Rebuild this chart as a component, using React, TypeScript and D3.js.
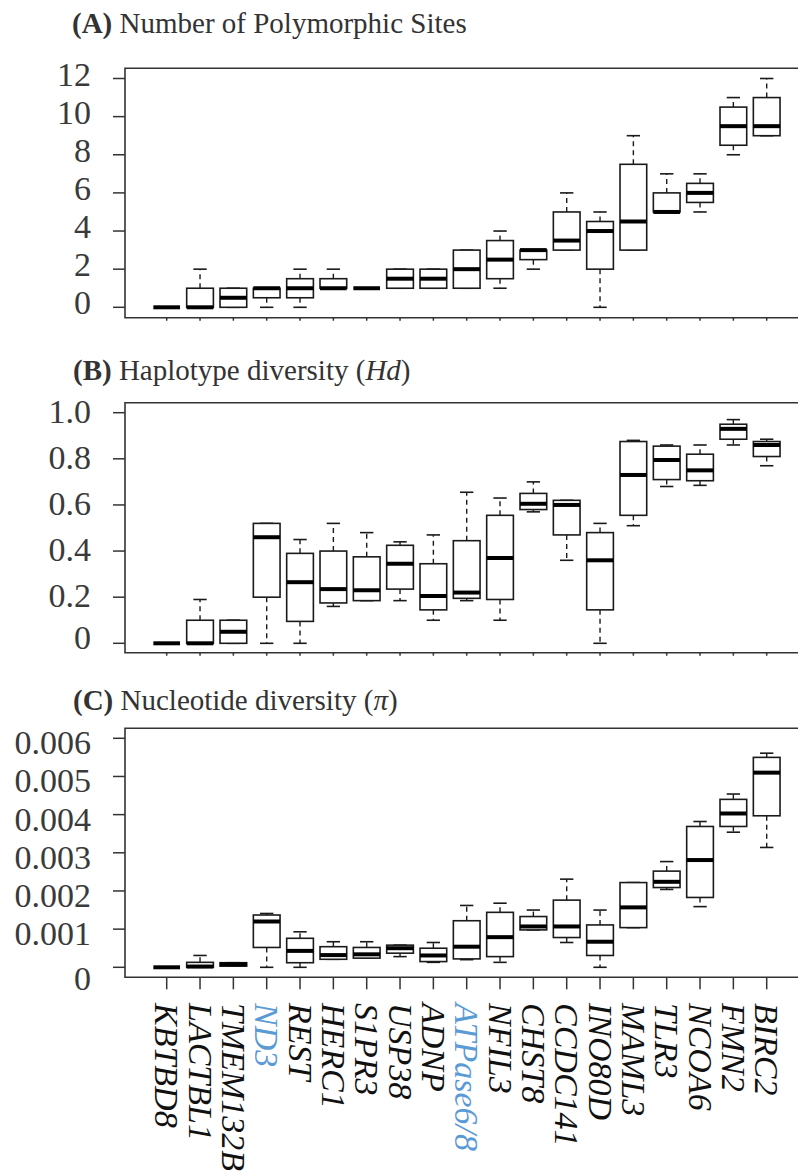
import React from "react";
import * as d3 from "d3";

// gene order along the x axis
const genes = [
  "KBTBD8", "LACTBL1", "TMEM132B", "ND3", "REST", "HERC1", "S1PR3", "USP38", "ADNP",
  "ATPase6/8", "NFIL3", "CHST8", "CCDC141", "INO80D", "MAML3", "TLR3", "NCOA6", "FMN2", "BIRC2",
];
const mitoGenes = ["ND3", "ATPase6/8"];

// [min, q1, median, q3, max] per gene
const polySites = [
  [0, 0, 0, 0, 0],
  [0, 0, 0, 1, 2],
  [0, 0, 0.5, 1, 1],
  [0, 0.5, 1, 1, 1],
  [0, 0.5, 1, 1.5, 2],
  [1, 1, 1, 1.5, 2],
  [1, 1, 1, 1, 1],
  [1, 1, 1.5, 2, 2],
  [1, 1, 1.5, 2, 2],
  [1, 1, 2, 3, 3],
  [1, 1.5, 2.5, 3.5, 4],
  [2, 2.5, 3, 3, 3],
  [3, 3, 3.5, 5, 6],
  [0, 2, 4, 4.5, 5],
  [3, 3, 4.5, 7.5, 9],
  [5, 5, 5, 6, 7],
  [5, 5.5, 6, 6.5, 7],
  [8, 8.5, 9.5, 10.5, 11],
  [9, 9, 9.5, 11, 12],
];

const hapDiversity = [
  [0, 0, 0, 0, 0],
  [0, 0, 0, 0.1, 0.19],
  [0, 0, 0.05, 0.1, 0.1],
  [0, 0.2, 0.46, 0.52, 0.52],
  [0, 0.095, 0.265, 0.39, 0.45],
  [0.16, 0.175, 0.235, 0.4, 0.52],
  [0.185, 0.185, 0.23, 0.375, 0.48],
  [0.185, 0.235, 0.345, 0.425, 0.44],
  [0.1, 0.145, 0.205, 0.345, 0.47],
  [0.185, 0.195, 0.22, 0.445, 0.655],
  [0.1, 0.19, 0.37, 0.555, 0.63],
  [0.57, 0.58, 0.605, 0.65, 0.7],
  [0.36, 0.47, 0.6, 0.62, 0.62],
  [0, 0.145, 0.36, 0.48, 0.52],
  [0.51, 0.555, 0.73, 0.875, 0.88],
  [0.68, 0.71, 0.795, 0.855, 0.86],
  [0.685, 0.705, 0.75, 0.82, 0.86],
  [0.86, 0.885, 0.93, 0.95, 0.97],
  [0.77, 0.81, 0.86, 0.875, 0.885],
];

const nucDiversity = [
  [0, 0, 0, 0, 0],
  [0, 0, 0.00002, 0.00013, 0.00031],
  [0.00003, 0.00003, 0.00008, 0.00012, 0.00012],
  [0, 0.00052, 0.0012, 0.00137, 0.00141],
  [0, 0.00012, 0.00043, 0.00076, 0.00093],
  [0.00021, 0.00021, 0.00032, 0.00054, 0.00067],
  [0.00024, 0.00024, 0.00034, 0.00052, 0.00067],
  [0.00028, 0.00037, 0.0005, 0.00058, 0.00058],
  [0.00013, 0.00015, 0.00031, 0.0005, 0.00065],
  [0.0002, 0.00022, 0.00054, 0.00122, 0.00162],
  [0.00013, 0.00028, 0.00079, 0.00144, 0.00168],
  [0.00098, 0.00098, 0.00107, 0.00133, 0.0015],
  [0.00065, 0.00078, 0.00107, 0.00176, 0.00231],
  [0, 0.00031, 0.00067, 0.00111, 0.0015],
  [0.00104, 0.00104, 0.00157, 0.00222, 0.00222],
  [0.00204, 0.00209, 0.00224, 0.00252, 0.00277],
  [0.00159, 0.00183, 0.00281, 0.00369, 0.00382],
  [0.00354, 0.00369, 0.00403, 0.0044, 0.00454],
  [0.00314, 0.00397, 0.0051, 0.0055, 0.00561],
];

// tick values and their labels
const ticksA = [0, 2, 4, 6, 8, 10, 12];
const ticksB = [0, 0.2, 0.4, 0.6, 0.8, 1.0];
const labelsB = ["0", "0.2", "0.4", "0.6", "0.8", "1.0"];
const ticksC = [0, 0.001, 0.002, 0.003, 0.004, 0.005, 0.006];
const labelsC = ["0", "0.001", "0.002", "0.003", "0.004", "0.005", "0.006"];

const serif = "Liberation Serif, Times New Roman, DejaVu Serif, serif";
const left = 125;
const right = 798;

const x = d3.scalePoint().domain(genes).range([166.7, 766.7]);
const boxW = 26.7;

const Panel = ({ stats, y, ticks, labels, top, bottom, labelDy, tickLen }) => {
  const cap = boxW / 4;
  return (
    <g>
      {ticks.map((t, i) => (
        <g key={i}>
          <line x1={left - 12} x2={left} y1={y(t)} y2={y(t)} stroke="#333" strokeWidth={1.5} />
          <text
            x={91}
            y={y(t) + (typeof labelDy === "function" ? labelDy(i) : labelDy)}
            textAnchor="end"
            fontFamily={serif}
            style={{ fontSize: "34px" }}
            fill="#3a3a3a"
          >
            {labels[i]}
          </text>
        </g>
      ))}
      {genes.map((g) => (
        <line key={g} x1={x(g)} x2={x(g)} y1={bottom} y2={bottom + tickLen} stroke="#333" strokeWidth={1.5} />
      ))}
      {stats.map((s, i) => {
        const cx = x(genes[i]);
        const [mn, q1, md, q3, mx] = s;
        return (
          <g key={i} stroke="#1a1a1a">
            <line x1={cx} x2={cx} y1={y(q3)} y2={y(mx)} strokeDasharray="5,4" strokeWidth={1.4} />
            <line x1={cx} x2={cx} y1={y(q1)} y2={y(mn)} strokeDasharray="5,4" strokeWidth={1.4} />
            <line x1={cx - cap} x2={cx + cap} y1={y(mx)} y2={y(mx)} strokeWidth={1.6} />
            <line x1={cx - cap} x2={cx + cap} y1={y(mn)} y2={y(mn)} strokeWidth={1.6} />
            <rect
              x={cx - boxW / 2}
              y={y(q3)}
              width={boxW}
              height={Math.max(0, y(q1) - y(q3))}
              fill="white"
              strokeWidth={1.6}
            />
            <line x1={cx - boxW / 2} x2={cx + boxW / 2} y1={y(md)} y2={y(md)} stroke="#000" strokeWidth={4} />
          </g>
        );
      })}
      <path
        d={`M${right},${top}H${left}V${bottom}H${right}`}
        fill="none"
        stroke="#333"
        strokeWidth={1.6}
      />
    </g>
  );
};

const yA = d3.scaleLinear().domain([0, 12]).range([307.3, 78.5]);
const yB = d3.scaleLinear().domain([0, 1]).range([643.3, 412.7]);
const yC = d3.scaleLinear().domain([0, 0.006]).range([967.3, 738.3]);

export default function App() {
  return (
    <svg width={798} height={1173} style={{ position: "absolute", left: 0, top: 0, background: "white" }}>
      <text x={72} y={33} fontFamily={serif} fontSize={29} fill="#333">
        <tspan fontWeight="bold">(A)</tspan>
        {" Number of Polymorphic Sites"}
      </text>
      <text x={73} y={380} fontFamily={serif} fontSize={29} fill="#333">
        <tspan fontWeight="bold">(B)</tspan>
        {" Haplotype diversity ("}
        <tspan fontStyle="italic">Hd</tspan>
        {")"}
      </text>
      <text x={73} y={710} fontFamily={serif} fontSize={29} fill="#333">
        <tspan fontWeight="bold">(C)</tspan>
        {" Nucleotide diversity ("}
        <tspan fontStyle="italic">π</tspan>
        {")"}
      </text>

      <Panel
        stats={polySites}
        y={yA}
        ticks={ticksA}
        labels={ticksA.map(String)}
        top={68.3}
        bottom={317.7}
        labelDy={7}
        tickLen={3}
      />
      <Panel
        stats={hapDiversity}
        y={yB}
        ticks={ticksB}
        labels={labelsB}
        top={402.7}
        bottom={652.7}
        labelDy={(i) => (i === 0 ? 6 : 10)}
        tickLen={3}
      />
      <Panel
        stats={nucDiversity}
        y={yC}
        ticks={ticksC}
        labels={labelsC}
        top={728.3}
        bottom={977.3}
        labelDy={(i) => (i === 0 ? 23 : 16)}
        tickLen={12}
      />

      {genes.map((g) => (
        <text
          key={g}
          transform={`translate(${x(g)},1003) rotate(90)`}
          dy="0.33em"
          fontFamily={serif}
          fontStyle="italic"
          fontSize={34}
          fill={mitoGenes.includes(g) ? "#5b9bd5" : "#111"}
        >
          {g}
        </text>
      ))}
    </svg>
  );
}
